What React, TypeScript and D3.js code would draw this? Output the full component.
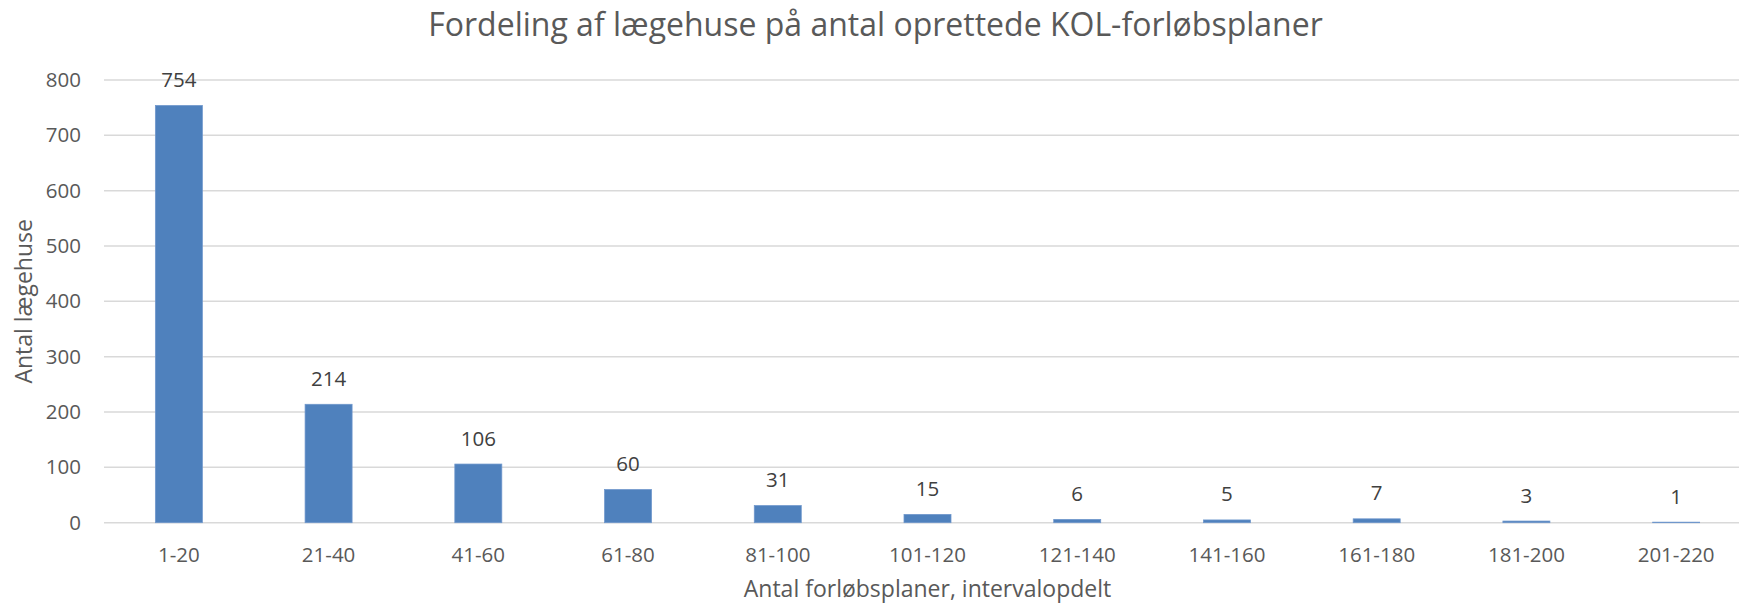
import React from "react";
import * as d3 from "d3";

const categories = ["1-20", "21-40", "41-60", "61-80", "81-100", "101-120", "121-140", "141-160", "161-180", "181-200", "201-220"];
const values = [754, 214, 106, 60, 31, 15, 6, 5, 7, 3, 1];
const yTicks = [0, 100, 200, 300, 400, 500, 600, 700, 800];
const titleText = "Fordeling af lægehuse på antal oprettede KOL-forløbsplaner";
const xTitleText = "Antal forløbsplaner, intervalopdelt";
const yTitleText = "Antal lægehuse";

const W = 1739;
const H = 604;
const FONT = "'Open Sans', 'Noto Sans', sans-serif";

export default function App() {
  const left = 104;
  const right = 1751;
  const top = 80;
  const bottom = 522.7;

  const x = d3
    .scaleBand<string>()
    .domain(categories)
    .range([left, right])
    .paddingInner(0.686)
    .paddingOuter(0.343);
  const y = d3.scaleLinear().domain([0, 800]).range([bottom, top]);

  return (
    <div style={{ position: "fixed", left: 0, top: 0 }}>
      <svg width={W} height={H} style={{ display: "block", background: "#fff" }}>
        <text
          x={(0 + right) / 2}
          y={36}
          textAnchor="middle"
          fontFamily={FONT}
          fontSize={32}
          fill="#595959"
        >
          {titleText}
        </text>
        {yTicks.map((t) => (
          <g key={t}>
            <line x1={left} x2={right} y1={y(t)} y2={y(t)} stroke="#D9D9D9" strokeWidth={1.5} />
            <text
              x={81}
              y={y(t) + 7}
              textAnchor="end"
              fontFamily={FONT}
              fontSize={20.5}
              fill="#595959"
            >
              {t}
            </text>
          </g>
        ))}
        {categories.map((c, i) => {
          const bx = x(c)!;
          const bw = x.bandwidth();
          const v = values[i];
          return (
            <g key={c}>
              <rect
                x={bx}
                y={y(v)}
                width={bw}
                height={bottom - y(v)}
                fill="#4F81BD"
                stroke="#6F97CC"
                strokeWidth={0.75}
              />
              <text
                x={bx + bw / 2}
                y={y(v) - 18.5}
                textAnchor="middle"
                fontFamily={FONT}
                fontSize={20.5}
                fill="#404040"
              >
                {v}
              </text>
              <text
                x={bx + bw / 2}
                y={561.5}
                textAnchor="middle"
                fontFamily={FONT}
                fontSize={20.5}
                fill="#595959"
              >
                {c}
              </text>
            </g>
          );
        })}
        <text
          x={(left + right) / 2}
          y={597}
          textAnchor="middle"
          fontFamily={FONT}
          fontSize={23}
          fill="#595959"
        >
          {xTitleText}
        </text>
        <text
          transform={`translate(32, ${(top + bottom) / 2}) rotate(-90)`}
          textAnchor="middle"
          fontFamily={FONT}
          fontSize={23}
          fill="#595959"
        >
          {yTitleText}
        </text>
      </svg>
    </div>
  );
}
